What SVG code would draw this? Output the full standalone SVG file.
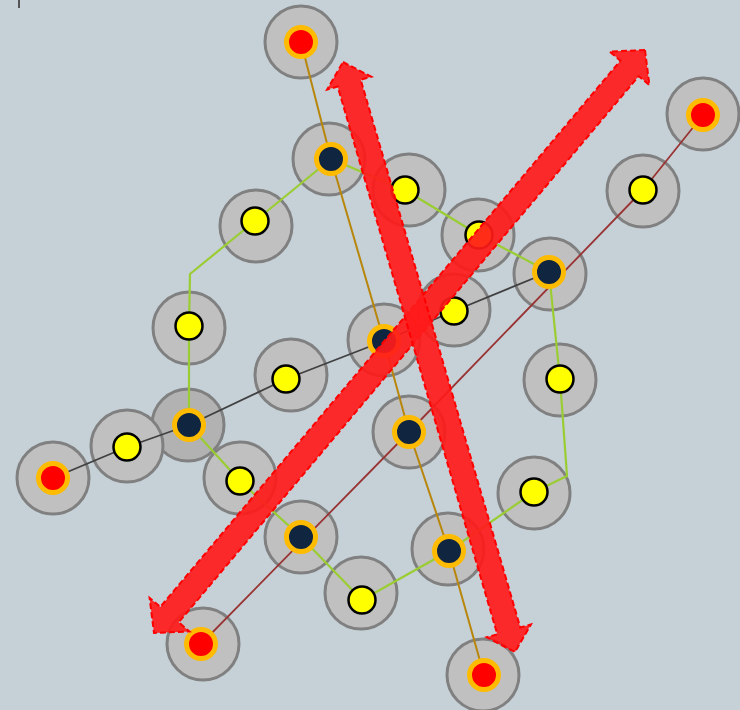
<svg xmlns="http://www.w3.org/2000/svg" width="740" height="710" viewBox="0 0 740 710">
<style>
.halo{fill:#c0c0c0;stroke:#808080;stroke-width:3}
.halo.dk{fill:#b2b2b2}
.red{fill:#ff0000;stroke:#ffbb00;stroke-width:5}
.navy{fill:#0f2540;stroke:#ffbb00;stroke-width:5}
.yel{fill:#ffff00;stroke:#000;stroke-width:2.5}
.ln{fill:none;stroke-linejoin:round}
.arrow{fill:#ff1a1a;fill-opacity:0.92;stroke:#ff0000;stroke-width:2;stroke-dasharray:6 3}
</style>
<rect width="740" height="710" fill="#c5d0d7"/>
<line x1="19" y1="0" x2="19" y2="8" stroke="#555" stroke-width="2"/>
<g id="halos">
<circle class="halo" cx="301" cy="42" r="36"/>
<circle class="halo" cx="329" cy="159" r="36"/>
<circle class="halo" cx="409" cy="190" r="36"/>
<circle class="halo" cx="256" cy="226" r="36"/>
<circle class="halo" cx="478" cy="235" r="36"/>
<circle class="halo" cx="550" cy="274" r="36"/>
<circle class="halo" cx="643" cy="191" r="36"/>
<circle class="halo" cx="703" cy="114" r="36"/>
<circle class="halo" cx="189" cy="328" r="36"/>
<circle class="halo" cx="454" cy="310" r="36"/>
<circle class="halo" cx="384" cy="340" r="36"/>
<circle class="halo" cx="291" cy="375" r="36"/>
<circle class="halo" cx="560" cy="380" r="36"/>
<circle class="halo dk" cx="188" cy="425" r="36"/>
<circle class="halo" cx="127" cy="446" r="36"/>
<circle class="halo" cx="53" cy="478" r="36"/>
<circle class="halo" cx="409" cy="432" r="36"/>
<circle class="halo" cx="240" cy="478" r="36"/>
<circle class="halo" cx="534" cy="493" r="36"/>
<circle class="halo" cx="301" cy="537" r="36"/>
<circle class="halo" cx="448" cy="549" r="36"/>
<circle class="halo" cx="361" cy="593" r="36"/>
<circle class="halo" cx="203" cy="644" r="36"/>
<circle class="halo" cx="483" cy="675" r="36"/>
</g>
<g id="connectors">
<polyline class="ln" stroke="#b8860b" stroke-width="2" points="301,42 331,159 384,341 409,432 449,551 484,675"/>
<polyline class="ln" stroke="#993333" stroke-width="1.8" points="703,115 643,190 409,432 201,644"/>
<polyline class="ln" stroke="#404040" stroke-width="1.8" points="53,478 127,447 189,425 286,379 384,341 454,311 549,272"/>
<polygon class="ln" stroke="#9acd32" stroke-width="2.2" points="331,159 255,221 190,274 189,326 189,425 240,481 301,537 362,600 449,551 534,492 567,476 560,379 549,272 479,235 405,190"/>
</g>
<g id="node-A"><circle class="red" cx="301" cy="42" r="14.5"/></g>
<g id="node-B"><circle class="navy" cx="331" cy="159" r="14.5"/></g>
<g id="node-C"><circle class="yel" cx="405" cy="190" r="13.5"/></g>
<g id="node-D"><circle class="yel" cx="255" cy="221" r="13.5"/></g>
<g id="node-E"><circle class="yel" cx="479" cy="235" r="13.5"/></g>
<g id="node-F"><circle class="navy" cx="549" cy="272" r="14.5"/></g>
<g id="node-G"><circle class="yel" cx="643" cy="190" r="13.5"/></g>
<g id="node-H"><circle class="red" cx="703" cy="115" r="14.5"/></g>
<g id="node-I"><circle class="yel" cx="189" cy="326" r="13.5"/></g>
<g id="node-J"><circle class="yel" cx="454" cy="311" r="13.5"/></g>
<g id="node-K"><circle class="navy" cx="384" cy="341" r="14.5"/></g>
<g id="node-L"><circle class="yel" cx="286" cy="379" r="13.5"/></g>
<g id="node-M"><circle class="yel" cx="560" cy="379" r="13.5"/></g>
<g id="node-N"><circle class="navy" cx="189" cy="425" r="14.5"/></g>
<g id="node-O"><circle class="yel" cx="127" cy="447" r="13.5"/></g>
<g id="node-P"><circle class="red" cx="53" cy="478" r="14.5"/></g>
<g id="node-Q"><circle class="navy" cx="409" cy="432" r="14.5"/></g>
<g id="node-R"><circle class="yel" cx="240" cy="481" r="13.5"/></g>
<g id="node-S"><circle class="yel" cx="534" cy="492" r="13.5"/></g>
<g id="node-T"><circle class="navy" cx="301" cy="537" r="14.5"/></g>
<g id="node-U"><circle class="navy" cx="449" cy="551" r="14.5"/></g>
<g id="node-V"><circle class="yel" cx="362" cy="600" r="13.5"/></g>
<g id="node-W"><circle class="red" cx="201" cy="644" r="14.5"/></g>
<g id="node-X"><circle class="red" cx="484" cy="675" r="14.5"/></g>
<g id="arrows">
<polygon class="arrow" points="645,50 609.6,51.6 620.4,60.7 160.3,606.9 149.6,597.9 154,633 189.4,631.4 178.7,622.3 638.7,76.1 649.4,85.1"/>
<polygon class="arrow" points="343,62 371.3,76.7 360.7,79.7 520.3,627.5 530.9,624.5 515,652 486.7,637.3 497.3,634.3 337.7,86.5 327.1,89.6"/>
</g>
</svg>
